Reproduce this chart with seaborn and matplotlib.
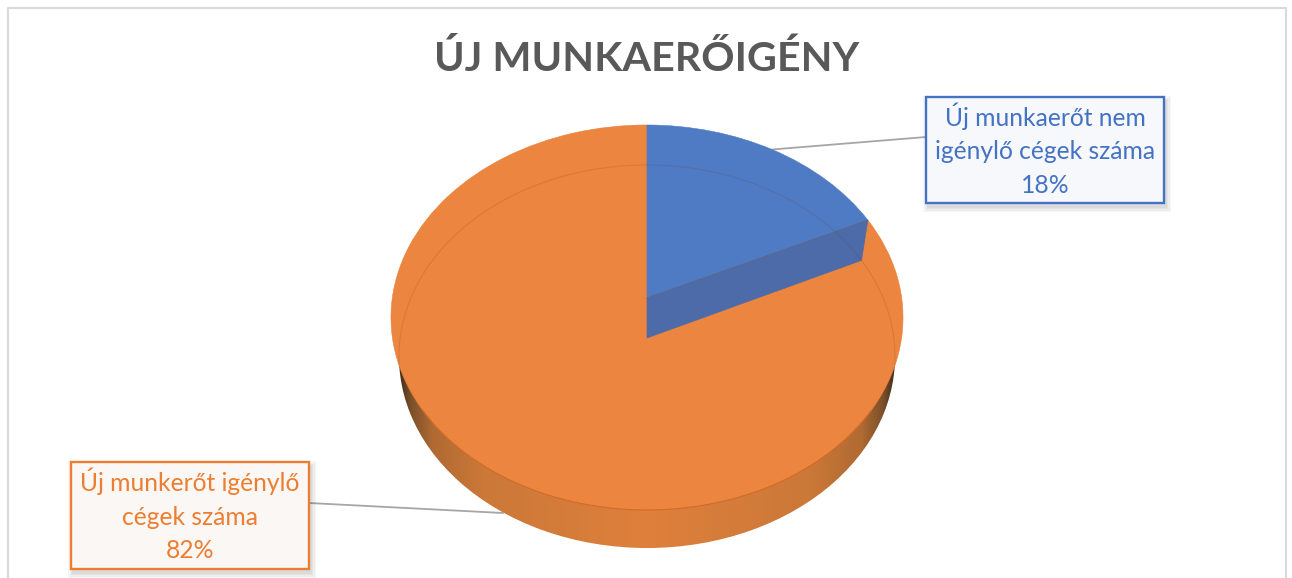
import numpy as np
import seaborn as sns
import matplotlib
matplotlib.use('Agg')
import matplotlib.pyplot as plt
from matplotlib.colors import LinearSegmentedColormap
from matplotlib.patches import Polygon, Rectangle
from matplotlib.transforms import Transform

# Chart content
title = 'ÚJ MUNKAERŐIGÉNY'
shares = [18, 82]
slice_names = ['Új munkaerőt nem\nigénylő cégek száma', 'Új munkerőt igénylő\ncégek száma']
slice_colors = ['#4F7BC4', '#EB8540']
line_colors = ['#4472C4', '#ED7D31']
box_fills = ['#F6F8FB', '#FBF7F4']


class DiscProjection(Transform):
    """Perspective view of the unit circle that ax.pie draws, in pixels"""
    input_dims = 2
    output_dims = 2

    def __init__(self, x_mid, half_width, y_top, y_apex, y_bottom):
        super().__init__()
        self.x_mid = x_mid
        self.k = (y_top + y_bottom - 2 * y_apex) / (y_bottom - y_top)
        self.p = y_top * (1 + self.k) - y_apex
        self.y_apex = y_apex
        self.a = half_width * np.sqrt(1 - self.k ** 2)

    def transform_non_affine(self, values):
        x, y = np.asarray(values, dtype=float).T
        w = 1 + self.k * y
        return np.column_stack([self.x_mid + self.a * x / w, (self.y_apex + self.p * y) / w])


sns.set_theme(style='white')
plt.rcParams['font.family'] = ['Lato', 'Open Sans', 'DejaVu Sans']

fig = plt.figure(figsize=(12.92, 5.78), dpi=100)
ax = fig.add_axes([0, 0, 1, 1])

top_face = DiscProjection(647, 256, 125, 298, 510)
bottom_face = DiscProjection(647, 248, 165, 338, 548)

# Outer side of the disc: shaded strip clipped to the lower face
rim, _ = ax.pie([100], startangle=90, counterclock=False, wedgeprops={'facecolor': 'none', 'linewidth': 0})
rim[0].set_transform(bottom_face + ax.transData)
side_cmap = LinearSegmentedColormap.from_list('side', [
    (0.0, '#3A2716'), (0.025, '#7A4F2A'), (0.07, '#B06A32'), (0.17, '#CB7838'),
    (0.5, '#DF803C'), (0.83, '#CB7838'), (0.93, '#B06A32'), (0.975, '#7A4F2A'), (1.0, '#3A2716')])
side = ax.imshow(np.linspace(0, 1, 256).reshape(1, -1), cmap=side_cmap, aspect='auto',
                 extent=(397, 897, 548, 300), zorder=0.5)
side.set_clip_path(rim[0])

# Top face
wedges, _ = ax.pie(shares, colors=slice_colors, startangle=90, counterclock=False)
wedges[1].set(transform=top_face + ax.transData, edgecolor='#E88039', linewidth=0.4, zorder=1)
wedges[0].set(transform=top_face + ax.transData, edgecolor='#4F7BC4', linewidth=0.4, zorder=2)

# Darker seam along the front of the top face (pie wedges have clipping off by default)
seam, _ = ax.pie([100], startangle=90, counterclock=False,
                 wedgeprops={'facecolor': 'none', 'edgecolor': '#D06C28', 'linewidth': 0.8})
seam[0].set(transform=top_face + ax.transData, zorder=2.5, clip_on=True)
seam[0].set_clip_path(Polygon([(0, 410), (1292, 410), (1292, 578), (0, 578)], transform=ax.transData))

# Cut wall of the blue slice, seen through the missing slice
angle = 2 * np.pi * shares[0] / sum(shares)
spots = [[0, 0], [np.sin(angle), np.cos(angle)]]
wall_top = top_face.transform(spots)
wall_bottom = bottom_face.transform(spots)
ax.add_patch(Polygon(np.vstack([wall_top, wall_bottom[::-1]]), closed=True, facecolor='#4D6BA9',
                     edgecolor='#4D6BA9', linewidth=0.4, zorder=3))
ax.plot(wall_top[:, 0], wall_top[:, 1], color='#5A6A8C', lw=0.7, zorder=3.1)

# Faint outline of the lower face, showing through the top
disc, _ = ax.pie([100], startangle=90, counterclock=False, wedgeprops={'facecolor': 'none', 'linewidth': 0})
disc[0].set_transform(top_face + ax.transData)
outline, _ = ax.pie([100], startangle=90, counterclock=False,
                    wedgeprops={'facecolor': 'none', 'edgecolor': (0.45, 0.15, 0.0, 0.13), 'linewidth': 0.8})
outline[0].set(transform=bottom_face + ax.transData, zorder=4, clip_on=True)
outline[0].set_clip_path(disc[0])

# Frame of the chart area, open at the bottom
ax.plot([8, 8, 1286, 1286], [578, 8, 8, 578], color='#D9D9D9', lw=1.5, zorder=0.2)

# Leader lines
ax.plot([926, 772], [137, 149.5], color='#A6A6A6', lw=1.3, zorder=0.4)
ax.plot([309, 503], [503, 513], color='#A6A6A6', lw=1.3, zorder=0.4)

# Data labels
boxes = [(926, 97, 238, 106), (71, 462, 238, 107)]
for i, (x, y, w, h) in enumerate(boxes):
    for grow in [5, 3.5, 2, 1]:
        ax.add_patch(Rectangle((x + 2 - grow, y + 4 - grow), w + 2 * grow, h + 2 * grow, facecolor='black',
                               alpha=0.035, linewidth=0, zorder=5))
    ax.add_patch(Rectangle((x, y), w, h, facecolor=box_fills[i], edgecolor=line_colors[i], linewidth=1.7, zorder=6))
    ax.text(x + w / 2, y + h / 2 - 0.5, f'{slice_names[i]}\n{shares[i]}%', color=line_colors[i], fontsize=17.7,
            ha='center', va='center', linespacing=1.55, zorder=7)

ax.text(647, 59, title, color='#595959', fontsize=29.7, fontweight='bold', ha='center', va='center', zorder=7)

ax.set_aspect('auto')
ax.set_xlim(0, 1292)
ax.set_ylim(578, 0)
ax.axis('off')

fig.savefig('out.png', dpi=100, facecolor='white')
